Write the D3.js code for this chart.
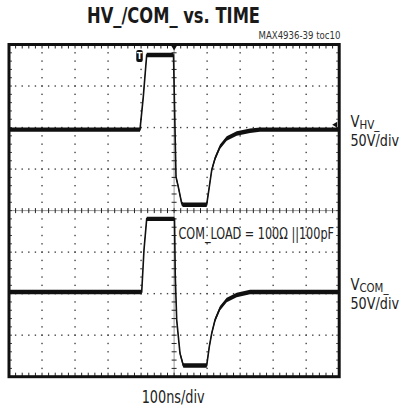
<!DOCTYPE html>
<html><head><meta charset="utf-8">
<script src="https://cdn.jsdelivr.net/npm/d3@7"></script>
<style>body{margin:0;background:#fff}svg{display:block}</style>
</head><body>
<script>
// ---- data (time in ns, volts relative to each channel's ground) ----
const hvTime  = [0, 396.7, 406.7, 417, 421, 498.2, 501.2, 505.8, 512.7, 523, 527, 598.7, 606.6, 613.9, 623.9, 639, 659.3, 689.6, 729.9, 760, 1000];
const hvVolts = [0, 0, 39.5, 89.8, 89.8, 89.8, 30, -56.9, -68.9, -88.9, -90.4, -90.4, -68.9, -48.8, -34.7, -20.7, -10.6, -4.6, -1.4, 0, 0];
const comTime  = [0, 401.9, 408.8, 417, 501.2, 503.5, 507.9, 517.9, 527.9, 598.7, 606.6, 613.9, 623.9, 639, 659.3, 689.6, 729.9, 1000];
const comVolts = [0, 0, 50.6, 88, 88, 20, -33.7, -73.9, -88.6, -88.6, -65.9, -49.8, -33.7, -19.6, -9.6, -3.6, 0, 0];
const timeDivs = [0,1,2,3,4,5,6,7,8,9,10];
const voltDivs = [-4,-3,-2,-1,0,1,2,3,4];
const titleText = "HV_/COM_ vs. TIME";
const partText = "MAX4936-39 toc10";
const xLabel = "100ns/div";
const noteText = "COM_LOAD = 100\u03A9 ||100pF";
const hvLabel = ["V", "HV_", "50V/div"];
const comLabel = ["V", "COM_", "50V/div"];
const voltsPerDiv = 50, nsPerDiv = 100;
const hvOffsetDiv = 1.95, comOffsetDiv = -1.96;
const triggerTime = 396;

const W = 402, H = 409;
const L = 9, R = 339.2, T = 44.5, B = 376.7;
const FONT = "'Liberation Sans Narrow','DejaVu Sans Condensed','Roboto',sans-serif";

const svg = d3.select("body").append("svg").attr("width", W).attr("height", H);
const x = d3.scaleLinear().domain([0, 10 * nsPerDiv]).range([L, R]);
const y = d3.scaleLinear().domain([-4, 4]).range([B, T]);

const g = svg.append("g");
// grid dots
const minorX = d3.range(0, 10 * nsPerDiv + 0.1, nsPerDiv / 5);
const minorY = d3.range(-4, 4.01, 0.2);
voltDivs.filter(d => d !== 0 && Math.abs(d) < 4).forEach(v => {
  g.selectAll(null).data(minorX.slice(1, -1)).enter().append("rect")
    .attr("x", d => x(d) - 0.7).attr("y", y(v) - 0.7).attr("width", 1.4).attr("height", 1.4).attr("fill", "#444");
});
timeDivs.filter(d => d !== 5 && d > 0 && d < 10).forEach(t => {
  g.selectAll(null).data(minorY.slice(1, -1)).enter().append("rect")
    .attr("x", x(t * nsPerDiv) - 0.7).attr("y", d => y(d) - 0.7).attr("width", 1.4).attr("height", 1.4).attr("fill", "#444");
});
// center axes
g.append("line").attr("x1", L).attr("x2", R).attr("y1", y(0)).attr("y2", y(0)).attr("stroke", "#999").attr("stroke-width", 1);
g.append("line").attr("x1", x(500)).attr("x2", x(500)).attr("y1", T).attr("y2", B).attr("stroke", "#999").attr("stroke-width", 1);
g.selectAll(null).data(minorX).enter().append("line")
  .attr("x1", d => x(d)).attr("x2", d => x(d)).attr("y1", y(0) - 2.5).attr("y2", y(0) + 2.5).attr("stroke", "#222").attr("stroke-width", 1);
g.selectAll(null).data(minorY).enter().append("line")
  .attr("x1", x(500) - 2.5).attr("x2", x(500) + 2.5).attr("y1", d => y(d)).attr("y2", d => y(d)).attr("stroke", "#222").attr("stroke-width", 1);
// edge ticks
g.selectAll(null).data(minorX).enter().append("line")
  .attr("x1", d => x(d)).attr("x2", d => x(d)).attr("y1", T).attr("y2", T + 4).attr("stroke", "#222");
g.selectAll(null).data(minorX).enter().append("line")
  .attr("x1", d => x(d)).attr("x2", d => x(d)).attr("y1", B).attr("y2", B - 4).attr("stroke", "#222");
g.selectAll(null).data(minorY).enter().append("line")
  .attr("x1", L).attr("x2", L + 3).attr("y1", d => y(d)).attr("y2", d => y(d)).attr("stroke", "#444");
g.selectAll(null).data(minorY).enter().append("line")
  .attr("x1", R).attr("x2", R - 3).attr("y1", d => y(d)).attr("y2", d => y(d)).attr("stroke", "#444");

// traces
function drawTrace(times, volts, off) {
  const pts = times.map((t, i) => [t, off + volts[i] / voltsPerDiv]);
  const area = d3.area().x(d => x(d[0])).y0(d => y(d[1]) + 2.2).y1(d => y(d[1]) - 2.2);
  const line = d3.line().x(d => x(d[0])).y(d => y(d[1]));
  svg.append("path").attr("d", area(pts)).attr("fill", "#111");
  svg.append("path").attr("d", line(pts)).attr("fill", "none").attr("stroke", "#111").attr("stroke-width", 1.6);
}
drawTrace(hvTime, hvVolts, hvOffsetDiv);
drawTrace(comTime, comVolts, comOffsetDiv);

// frame
svg.append("rect").attr("x", L).attr("y", T).attr("width", R - L).attr("height", B - T)
  .attr("fill", "none").attr("stroke", "#111").attr("stroke-width", 3);

// markers
const tx = x(triggerTime);
svg.append("rect").attr("x", tx - 3.5).attr("y", 50).attr("width", 6.5).attr("height", 12).attr("rx", 2).attr("fill", "#111");
svg.append("text").attr("x", tx - 0.2).attr("y", 59).attr("text-anchor", "middle").attr("font-family", FONT)
  .attr("font-size", 9).attr("font-weight", "bold").attr("fill", "#fff").text("T");
svg.append("path").attr("d", `M${x(500) - 3},${T + 1}L${x(500) + 3},${T + 1}L${x(500)},${T + 6}Z`).attr("fill", "#111");
const gy = y(hvOffsetDiv) - 5;
svg.append("path").attr("d", `M${R - 7},${gy}L${R - 2},${gy - 3}L${R - 2},${gy + 3}Z`).attr("fill", "#111");

// texts
function txt(s, xx, yy, size, len, opts = {}) {
  const t = svg.append("text").attr("x", xx).attr("y", yy).attr("font-family", FONT).attr("font-size", size)
    .attr("fill", opts.fill || "#222").attr("text-anchor", opts.anchor || "start").text(s);
  if (opts.bold) t.attr("font-weight", "bold");
  if (len) t.attr("textLength", len).attr("lengthAdjust", "spacingAndGlyphs");
  return t;
}
txt(titleText, 87, 23, 22, 173, {bold: true, fill: "#1a1a1a"});
txt(partText, 258.5, 39, 11, 82, {fill: "#333"});
txt(hvLabel[0], 350.5, 126.5, 16, 9);
txt(hvLabel[1], 359.5, 129, 11.5, 20);
txt(hvLabel[2], 350.5, 146, 15.5, 48.5);
txt(comLabel[0], 350.5, 289.5, 16, 9);
txt(comLabel[1], 359.5, 292, 11.5, 29);
txt(comLabel[2], 350.5, 309, 15.5, 48.5);
txt(noteText, 178.5, 239.3, 16.5, 155.5);
txt(xLabel, 141.7, 403, 17, 63);
</script>
</body></html>
